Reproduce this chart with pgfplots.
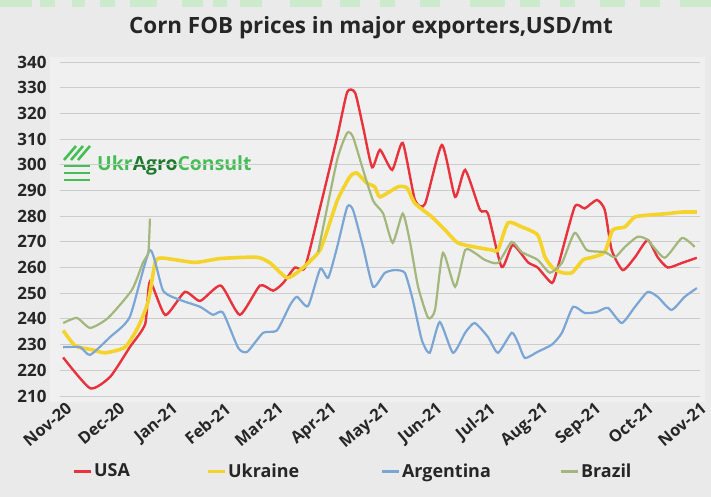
\documentclass[border=0pt]{standalone}
\usepackage{fontspec}
\setmainfont{Open Sans}
\usepackage{pgfplots}
\pgfplotsset{compat=1.18}
\definecolor{bgc}{RGB}{234,234,234}
\definecolor{usa}{RGB}{232,50,60}
\definecolor{ukr}{RGB}{244,212,44}
\definecolor{arg}{RGB}{122,166,214}
\definecolor{bra}{RGB}{163,183,124}
\definecolor{lg}{RGB}{70,190,85}
\definecolor{dg}{RGB}{30,120,45}
\definecolor{gridc}{RGB}{204,204,204}
\begin{document}
\begin{tikzpicture}[x=1bp,y=1bp]
\fill[bgc] (0,0) rectangle (711,497);
\fill[bgc!70!white] (50,95) rectangle (705,440);
% faint green band at top
\foreach \a/\b in {0/32,40/55,72/85,100/115,130/157,182/203,213/227,240/262,290/322,340/360,380/395,420/440,470/505,520/540,560/575,600/625,640/660,680/711}{
  \fill[green!60!black!20!white] (\a,490) rectangle (\b,497);
}
\node[font=\fontsize{22.5}{26}\selectfont\bfseries, text=black!85] at (371,469) {Corn FOB prices in major exporters,USD/mt};
% watermark
\begin{scope}[line width=2.6bp, lg]
\draw (64,337) -- (76,351);
\draw (71,337) -- (83,351);
\draw (78,337) -- (90,351);
\draw (64,331) -- (90,331);
\draw (64,324) -- (90,324);
\draw (64,317) -- (90,317);
\end{scope}
\node[anchor=west, font=\fontsize{19.5}{23}\selectfont\bfseries, inner sep=0pt] at (97,332) {\textcolor{lg}{Ukr}\textcolor{dg}{Agro}\textcolor{lg}{Consult}};
\begin{axis}[
  at={(60bp,101bp)}, anchor=south west,
  scale only axis, width=640bp, height=334bp,
  xmin=-0.04, xmax=12.06, ymin=210, ymax=340,
  ytick={210,220,...,340},
  xtick={0,1,...,12},
  xticklabels={Nov-20,Dec-20,Jan-21,Feb-21,Mar-21,Apr-21,May-21,Jun-21,Jul-21,Aug-21,Sep-21,Oct-21,Nov-21},
  ymajorgrids, grid style={gridc, line width=0.9bp},
  axis line style={draw=none},
  major tick length=0pt,
  /pgf/number format/assume math mode=true,
  yticklabel style={font=\fontsize{17}{19}\selectfont\bfseries, text=black!85, xshift=-10bp},
  xticklabel style={font=\fontsize{16.5}{19}\selectfont\bfseries, text=black!85, rotate=40, anchor=north east, inner sep=1bp, yshift=-5bp},
  legend columns=4,
  legend style={at={(0.014,-0.19)}, anchor=north west, draw=none, fill=none,
    font=\fontsize{18}{21}\selectfont\bfseries, text=black!85,
    /tikz/every even column/.append style={column sep=0bp}},
  legend image code/.code={\draw[#1, line width=3bp] (0,0) -- (17bp,0);},
  every axis plot/.append style={smooth, tension=0.35},
]
\addplot[usa, line width=2.4bp] coordinates {
(0.02,225) (0.53,213) (0.91,217.5) (1.28,229) (1.57,238) (1.66,254.5) (1.95,241.5)
(2.32,250.5) (2.61,247) (3.00,253) (3.36,241.6) (3.74,253) (3.99,251) (4.18,254)
(4.40,260) (4.59,260) (4.88,283.6) (5.20,310.8) (5.39,328.3) (5.54,328) (5.69,314.7)
(5.86,299) (6.01,305.8) (6.24,298) (6.44,308.5) (6.67,286.3) (6.86,284.7) (7.18,307.7)
(7.43,287.5) (7.62,298) (7.90,282.4) (8.05,281) (8.31,260.2) (8.52,268.8) (8.81,262)
(8.99,260) (9.26,254) (9.37,260) (9.69,283.6) (9.88,283) (10.11,286.3) (10.26,282.4)
(10.39,266.8) (10.60,259) (10.83,264) (11.07,270.7) (11.26,264) (11.45,260) (11.72,261.8)
(12.00,263.8)};
\addlegendentry{\makebox[110bp][l]{USA}}
\addplot[ukr, line width=3.6bp] coordinates {
(0.02,235.5) (0.25,229.5) (0.57,228) (0.81,226.8) (1.19,229) (1.44,237) (1.63,247)
(1.76,262) (1.89,263.7) (2.51,262) (2.99,263.5) (3.68,264) (3.93,261.8) (4.25,256)
(4.50,259) (4.88,267) (5.20,286) (5.44,295.3) (5.57,296.8) (5.76,292.9) (5.91,291.4)
(6.01,287.5) (6.35,291.4) (6.52,291) (6.67,285) (6.99,279.7) (7.24,274.6) (7.48,269.6)
(7.80,268) (8.13,266.8) (8.24,266.8) (8.43,277.4) (8.69,275.8) (8.99,272.7) (9.13,264)
(9.28,259.8) (9.45,258) (9.64,258) (9.85,263) (10.03,264) (10.26,266) (10.41,274.6)
(10.64,275.8) (10.83,279.7) (11.15,280.5) (11.45,281) (11.72,281.6) (12.00,281.6)};
\addlegendentry{\makebox[150bp][l]{Ukraine}}
\addplot[arg, line width=2.2bp] coordinates {
(0.02,229) (0.34,229) (0.53,226) (0.91,233) (1.28,240.8) (1.66,266.8) (1.91,251)
(2.23,247.4) (2.61,244.7) (2.85,241.6) (3.04,242.5) (3.33,228.7) (3.50,227.2) (3.80,234.6)
(4.06,235.5) (4.31,245.4) (4.44,248.6) (4.65,245) (4.88,259.5) (5.03,256) (5.20,268)
(5.39,283.6) (5.50,282.4) (5.69,268) (5.88,252.5) (6.10,257.9) (6.29,259) (6.48,257.9)
(6.63,247.4) (6.80,231.8) (6.95,226.8) (7.14,238.8) (7.39,226.8) (7.62,234.6) (7.80,238.4)
(8.05,233) (8.24,226.8) (8.50,234.6) (8.62,230.7) (8.75,224.8) (8.99,227.2) (9.26,230)
(9.45,234.6) (9.66,244.7) (9.88,242.3) (10.11,242.7) (10.32,244.3) (10.58,238.4) (10.83,244.7)
(11.07,250.5) (11.26,248.6) (11.52,243.5) (11.77,248.6) (12.00,252)};
\addlegendentry{\makebox[155bp][l]{Argentina}}
\addplot[bra, line width=2.2bp] coordinates {
(0.02,238.4) (0.28,240.4) (0.53,236.5) (0.87,240.4) (1.32,251.3) (1.53,262) (1.63,266) (1.66,279)};
\addlegendentry{\makebox[60bp][l]{Brazil}}
\addplot[bra, line width=2.2bp, forget plot] coordinates {
(4.84,266) (5.20,301.9) (5.39,312.4) (5.50,310.8) (5.69,298) (5.88,286) (6.07,281)
(6.25,269.6) (6.44,281) (6.58,269.6) (6.73,252.5) (6.92,240.4) (7.05,243.5) (7.20,265.7)
(7.43,252.5) (7.62,266.8) (7.80,265.7) (7.99,263) (8.24,261.8) (8.50,270) (8.69,266)
(8.99,263) (9.22,258) (9.45,261.8) (9.69,273.5) (9.92,266.8) (10.26,266) (10.45,264)
(10.64,268) (10.88,272) (11.07,270.7) (11.39,263.8) (11.72,271.5) (11.96,268)};
\end{axis}
\end{tikzpicture}
\end{document}
